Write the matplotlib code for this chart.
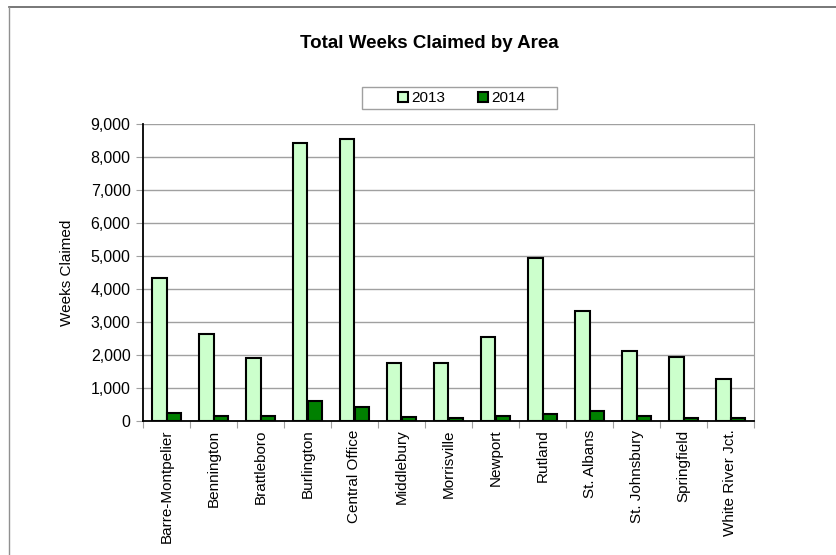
import matplotlib
matplotlib.use("Agg")
import matplotlib.pyplot as plt
import numpy as np
from matplotlib.lines import Line2D
from matplotlib.patches import Rectangle
from matplotlib.ticker import FuncFormatter, MultipleLocator

areas = ["Barre-Montpelier", "Bennington", "Brattleboro", "Burlington", "Central Office",
         "Middlebury", "Morrisville", "Newport", "Rutland", "St. Albans",
         "St. Johnsbury", "Springfield", "White River Jct."]
weeks_2013 = [4330, 2655, 1930, 8445, 8555, 1776, 1780, 2555, 4940, 3340, 2120, 1960, 1290]
weeks_2014 = [245, 150, 155, 605, 435, 120, 90, 150, 220, 310, 170, 90, 100]
series_labels = ["2013", "2014"]

plt.rcParams['font.family'] = ['Liberation Sans', 'DejaVu Sans']

W, H = 836, 555
fig = plt.figure(figsize=(W/100, H/100), dpi=100)
ax = fig.add_axes([143/W, 1-421.3/H, (754-143)/W, (421.3-124.3)/H])

x = np.arange(len(areas))
w = 0.3
ax.bar(x - w/2, weeks_2013, w, color="#CCFFCC", edgecolor="black", linewidth=1.5, zorder=3)
ax.bar(x + w/2, weeks_2014, w, color="#008000", edgecolor="black", linewidth=1.5, zorder=3)

ax.set_xlim(-0.5, len(areas) - 0.5)
ax.set_ylim(0, 9000)
ax.yaxis.set_major_locator(MultipleLocator(1000))
ax.yaxis.set_major_formatter(FuncFormatter(lambda v, p: f"{int(v):,}"))
ax.grid(axis="y", color="#A0A0A0", linewidth=1.0, zorder=0)

ax.set_xticks(np.arange(-0.5, len(areas), 1.0))
ax.set_xticklabels([])
ax.set_xticks(x, minor=True)
ax.set_xticklabels(areas, minor=True, rotation=90, fontsize=11)
ax.tick_params(axis="x", which="major", length=5, color="#A0A0A0", direction="out")
ax.tick_params(axis="x", which="minor", length=0, pad=6)
ax.tick_params(axis="y", length=5, color="#A0A0A0", labelsize=11.5, pad=4)

for s in ["left", "bottom"]:
    ax.spines[s].set_color("black")
    ax.spines[s].set_linewidth(1.3)
    ax.spines[s].set_zorder(4)
ax.spines["right"].set_color("#A0A0A0")
ax.spines["top"].set_visible(False)

ax.set_ylabel("Weeks Claimed", fontsize=11, labelpad=12)

fig.text(429.5/W, 1-44/H, "Total Weeks Claimed by Area", ha="center", va="center",
         fontsize=13.5, fontweight="bold")

handles = [Line2D([], [], marker="s", linestyle="none", markersize=7, markerfacecolor="#CCFFCC",
                  markeredgecolor="black", markeredgewidth=1.5),
           Line2D([], [], marker="s", linestyle="none", markersize=7, markerfacecolor="#008000",
                  markeredgecolor="black", markeredgewidth=1.5)]
leg = fig.legend(handles, series_labels, loc="center", bbox_to_anchor=(461/W, 1-98/H),
                 ncol=2, frameon=False, fontsize=11, handlelength=0.8,
                 handletextpad=0.1, columnspacing=2.1, borderpad=0.3)
fig.add_artist(Rectangle((362/W, 1-109/H), (557-362)/W, (109-87)/H, transform=fig.transFigure,
                         facecolor="none", edgecolor="#A0A0A0", linewidth=1.0))

# figure frame (top and left lines)
fig.add_artist(Line2D([9/W, 1], [1-7/H, 1-7/H], color="#606060", linewidth=1.2, transform=fig.transFigure))
fig.add_artist(Line2D([9/W, 9/W], [0, 1-7/H], color="#909090", linewidth=1.0, transform=fig.transFigure))

fig.savefig("out.png", dpi=100)
